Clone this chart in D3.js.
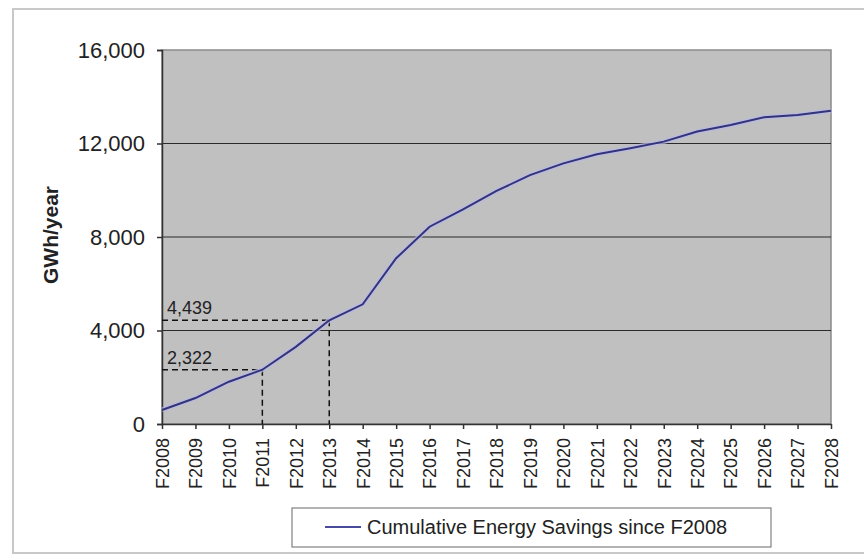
<!DOCTYPE html>
<html><head><meta charset="utf-8">
<script src="https://d3js.org/d3.v7.min.js"></script>
<style>body{margin:0;background:#fff}svg{display:block}</style>
</head><body>
<svg id="c" width="864" height="558"></svg>
<script>
const years = ["F2008","F2009","F2010","F2011","F2012","F2013","F2014","F2015","F2016","F2017","F2018","F2019","F2020","F2021","F2022","F2023","F2024","F2025","F2026","F2027","F2028"];
const savings = [600,1110,1810,2322,3300,4439,5120,7090,8440,9180,9970,10650,11150,11540,11800,12080,12510,12790,13120,13220,13400];
const yTicks = [0,4000,8000,12000,16000];
const markers = [{year:"F2011", value:2322, label:"2,322"},{year:"F2013", value:4439, label:"4,439"}];
const seriesName = "Cumulative Energy Savings since F2008";
const yTitle = "GWh/year";

const font = "'Liberation Sans', Arial, sans-serif";
const svg = d3.select("#c");
const L=162, R=831, T=50, B=424;
const x = d3.scalePoint().domain(years).range([L,R]);
const y = d3.scaleLinear().domain([0,16000]).range([B,T]);

// outer frame
svg.append("rect").attr("x",13).attr("y",9).attr("width",860).attr("height",544)
  .attr("fill","#fff").attr("stroke","#c8c8c8").attr("stroke-width",2);

// plot area
svg.append("rect").attr("x",L).attr("y",T).attr("width",R-L).attr("height",B-T)
  .attr("fill","#c0c0c0").attr("stroke","#8a8a8a").attr("stroke-width",1.5);

// gridlines
svg.append("g").selectAll("line").data(yTicks.filter(d=>d>0&&d<16000)).join("line")
  .attr("x1",L).attr("x2",R).attr("y1",d=>y(d)).attr("y2",d=>y(d))
  .attr("stroke","#2a2a2a").attr("stroke-width",1.2);

// y axis
const ya = svg.append("g").attr("transform",`translate(${L},0)`)
  .call(d3.axisLeft(y).tickValues(yTicks).tickSize(5).tickPadding(12).tickFormat(d3.format(",")));
ya.select(".domain").attr("stroke","#333").attr("stroke-width",1.5);
ya.selectAll(".tick line").attr("stroke","#333").attr("stroke-width",1.5);
ya.selectAll("text").attr("font-family",font).attr("font-size",22).attr("fill","#222");

// x axis
const xa = svg.append("g").attr("transform",`translate(0,${B})`)
  .call(d3.axisBottom(x).tickSize(5).tickSizeOuter(0));
xa.select(".domain").attr("stroke","#333").attr("stroke-width",1.5);
xa.selectAll(".tick line").attr("stroke","#333").attr("stroke-width",1.5);
xa.selectAll("text").attr("font-family",font).attr("font-size",18).attr("fill","#222")
  .attr("transform","rotate(-90)").attr("text-anchor","end")
  .attr("x",-14).attr("y",0).attr("dy","0.35em");

// dashed marker lines
const mg = svg.append("g");
markers.forEach(m=>{
  mg.append("line").attr("x1",L).attr("x2",x(m.year)).attr("y1",y(m.value)).attr("y2",y(m.value))
    .attr("stroke","#111").attr("stroke-width",1.5).attr("stroke-dasharray","6,4");
  mg.append("line").attr("x1",x(m.year)).attr("x2",x(m.year)).attr("y1",y(m.value)).attr("y2",B)
    .attr("stroke","#111").attr("stroke-width",1.5).attr("stroke-dasharray","6,4");
  mg.append("text").attr("x",L+5).attr("y",y(m.value)-6).text(m.label)
    .attr("font-family",font).attr("font-size",18).attr("fill","#222");
});

// line
const line = d3.line().x((d,i)=>x(years[i])).y(d=>y(d));
svg.append("path").datum(savings).attr("d",line).attr("fill","none")
  .attr("stroke","#b8b8e8").attr("stroke-width",5).attr("opacity",0.7);
svg.append("path").datum(savings).attr("d",line).attr("fill","none")
  .attr("stroke","#33337a").attr("stroke-width",2);

// y title
svg.append("text").attr("transform","translate(58,235) rotate(-90)")
  .attr("text-anchor","middle").attr("font-family",font).attr("font-size",21)
  .attr("font-weight","bold").attr("fill","#222").text(yTitle);

// legend
const lg = svg.append("g");
lg.append("rect").attr("x",292).attr("y",508).attr("width",479).attr("height",39)
  .attr("fill","#fff").attr("stroke","#808080").attr("stroke-width",1.2);
lg.append("line").attr("x1",325).attr("x2",361).attr("y1",527).attr("y2",527)
  .attr("stroke","#4a4a9a").attr("stroke-width",2);
lg.append("text").attr("x",367).attr("y",534).text(seriesName)
  .attr("font-family",font).attr("font-size",20).attr("fill","#222");
</script>
</body></html>
